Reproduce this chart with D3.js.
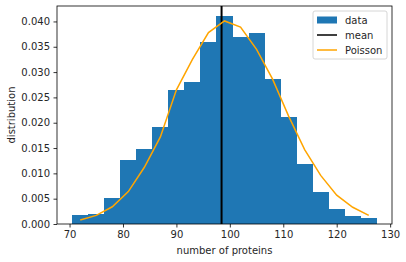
<!DOCTYPE html>
<html>
<head>
<meta charset="utf-8">
<script src="https://cdn.jsdelivr.net/npm/d3@7"></script>
<style>
  body { margin: 0; background: #fff; }
  text { font-family: "DejaVu Sans", sans-serif; fill: #262626; }
</style>
</head>
<body>
<div id="chart"></div>
<script>
// histogram bins (left edges), densities, mean and Poisson curve at bin centres
var binEdges = [70.5, 73.5, 76.5, 79.5, 82.5, 85.5, 88.5, 91.5, 94.5, 97.5,
                100.5, 103.5, 106.5, 109.5, 112.5, 115.5, 118.5, 121.5, 124.5, 127.5];
var density = [0.0018, 0.0020, 0.0052, 0.0127, 0.0149, 0.0192, 0.0265, 0.0280, 0.0360, 0.0410,
               0.0369, 0.0377, 0.0286, 0.0212, 0.0119, 0.0064, 0.0030, 0.0016, 0.0012];
var meanValue = 98.45;
var poissonX = [72, 75, 78, 81, 84, 87, 90, 93, 96, 99, 102, 105, 108, 111, 114, 117, 120, 123, 126];
var poissonY = [0.0008, 0.0017, 0.0034, 0.0064, 0.0112, 0.0172, 0.0265, 0.0325, 0.0378, 0.0401,
                0.0389, 0.0345, 0.0286, 0.0213, 0.0147, 0.0096, 0.0057, 0.0033, 0.0017];
var xTicks = [70, 80, 90, 100, 110, 120, 130];
var yTicks = [0, 0.005, 0.01, 0.015, 0.02, 0.025, 0.03, 0.035, 0.04];

var svgWidth = 406;
var svgHeight = 262;
var margin = { top: 6, right: 14, bottom: 38, left: 57 };
var width = svgWidth - margin.left - margin.right;
var height = svgHeight - margin.top - margin.bottom;

var svg = d3.select('#chart')
    .append('svg')
    .attr('width', svgWidth)
    .attr('height', svgHeight);
var chart = svg.append('g')
    .attr('transform', 'translate(' + margin.left + ',' + margin.top + ')');

var x = d3.scaleLinear().domain([67.65, 130.35]).range([0, width]);
var y = d3.scaleLinear().domain([0, 0.04305]).range([height, 0]);

var bins = density.map(function (d, i) {
    return { x0: binEdges[i], x1: binEdges[i + 1], v: d };
});

// bars
chart.selectAll('rect.bar')
    .data(bins)
    .enter()
    .append('rect')
    .attr('class', 'bar')
    .attr('x', function (d) { return x(d.x0); })
    .attr('width', function (d) { return x(d.x1) - x(d.x0); })
    .attr('y', function (d) { return y(d.v); })
    .attr('height', function (d) { return y(0) - y(d.v); })
    .attr('fill', '#1f77b4')
    .attr('shape-rendering', 'crispEdges');

// mean line
chart.append('line')
    .attr('x1', x(meanValue)).attr('x2', x(meanValue))
    .attr('y1', 0).attr('y2', height)
    .attr('stroke', '#000')
    .attr('stroke-width', 2);

// poisson
var line = d3.line()
    .x(function (d, i) { return x(poissonX[i]); })
    .y(function (d) { return y(d); });
chart.append('path')
    .datum(poissonY)
    .attr('d', line)
    .attr('fill', 'none')
    .attr('stroke', 'orange')
    .attr('stroke-width', 1.5);

// axes
var bottomAxis = d3.axisBottom(x).tickValues(xTicks).tickSize(3.5).tickPadding(3.5).tickFormat(d3.format('d'));
var leftAxis = d3.axisLeft(y).tickValues(yTicks).tickSize(3.5).tickPadding(3.5).tickFormat(d3.format('.3f'));

var gx = chart.append('g')
    .attr('transform', 'translate(0,' + height + ')')
    .call(bottomAxis);
var gy = chart.append('g').call(leftAxis);
[gx, gy].forEach(function (g) {
    g.select('.domain').remove();
    g.selectAll('line').attr('stroke', '#000').attr('stroke-width', 0.8);
    g.selectAll('text').style('font-size', '10px').style('fill', '#262626')
        .style('font-family', '"DejaVu Sans", sans-serif');
});

// frame
chart.append('rect')
    .attr('x', 0).attr('y', 0)
    .attr('width', width).attr('height', height)
    .attr('fill', 'none')
    .attr('stroke', '#000')
    .attr('stroke-width', 0.8);

// axis labels
chart.append('text')
    .attr('x', width / 2)
    .attr('y', height + 30)
    .attr('text-anchor', 'middle')
    .style('font-size', '10px')
    .text('number of proteins');

chart.append('text')
    .attr('transform', 'rotate(-90)')
    .attr('x', -height / 2)
    .attr('y', -42)
    .attr('text-anchor', 'middle')
    .style('font-size', '10px')
    .text('distribution');

// legend
var legend = chart.append('g')
    .attr('transform', 'translate(' + (width - 79) + ',5)');
legend.append('rect')
    .attr('width', 74).attr('height', 48)
    .attr('rx', 2)
    .attr('fill', '#fff').attr('fill-opacity', 0.8)
    .attr('stroke', '#ccc').attr('stroke-width', 0.8);
legend.append('rect')
    .attr('x', 4).attr('y', 5.5)
    .attr('width', 20).attr('height', 7)
    .attr('fill', '#1f77b4');
legend.append('line')
    .attr('x1', 4).attr('x2', 24).attr('y1', 24).attr('y2', 24)
    .attr('stroke', '#000').attr('stroke-width', 1.5);
legend.append('line')
    .attr('x1', 4).attr('x2', 24).attr('y1', 39).attr('y2', 39)
    .attr('stroke', 'orange').attr('stroke-width', 1.5);
['data', 'mean', 'Poisson'].forEach(function (t, i) {
    legend.append('text')
        .attr('x', 32)
        .attr('y', 9 + i * 15)
        .attr('dy', '0.35em')
        .style('font-size', '10px')
        .text(t);
});
</script>
</body>
</html>
